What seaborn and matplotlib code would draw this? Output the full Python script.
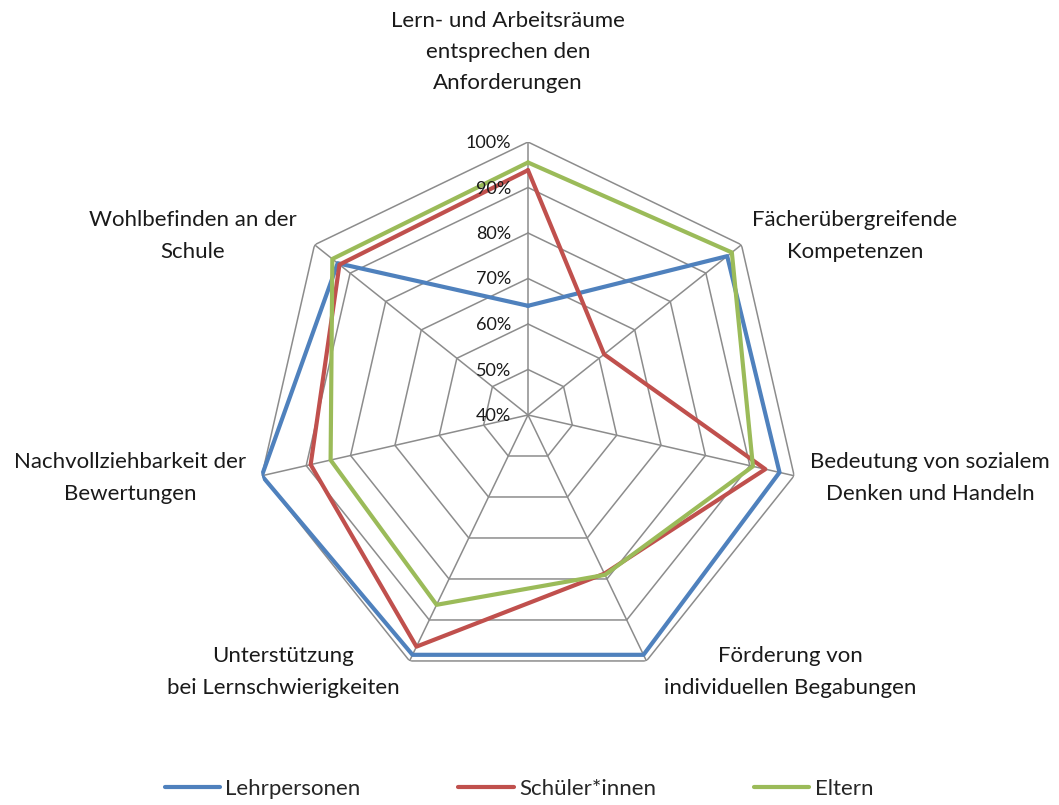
"""Radar chart: Zufriedenheit nach Personengruppe."""

import matplotlib

matplotlib.use('Agg')
import matplotlib.pyplot as plt
import matplotlib.transforms as mtransforms
import numpy as np
import pandas as pd
import seaborn as sns

categories = [
    'Lern- und Arbeitsräume\nentsprechen den\nAnforderungen',
    'Fächerübergreifende\nKompetenzen',
    'Bedeutung von sozialem\nDenken und Handeln',
    'Förderung von\nindividuellen Begabungen',
    'Unterstützung\nbei Lernschwierigkeiten',
    'Nachvollziehbarkeit der\nBewertungen',
    'Wohlbefinden an der\nSchule',
]
lehrpersonen = [64, 96, 96.7, 98.5, 98.5, 100, 93.5]
schueler = [93.8, 61.4, 93.5, 78.7, 96.5, 89, 93]
eltern = [95.5, 97.3, 90.7, 79, 86.3, 84.5, 95]
series_names = ['Lehrpersonen', 'Schüler*innen', 'Eltern']
tick_values = [40, 50, 60, 70, 80, 90, 100]

colors = ['#4F81BD', '#C0504D', '#9BBB59']
grid_color = '#8C8C8C'

# long table, every series closed back to its first point
n = len(categories)
angles = np.linspace(0, 2 * np.pi, n, endpoint=False)
angles_closed = np.append(angles, 2 * np.pi)
rows = []
for name, vals in zip(series_names, [lehrpersonen, schueler, eltern]):
    for a, v in zip(angles_closed, vals + vals[:1]):
        rows.append({'angle': a, 'wert': v, 'gruppe': name})
df = pd.DataFrame(rows)

sns.set_theme(style='white')
plt.rcParams['font.family'] = ['Lato', 'DejaVu Sans']

W, H = 1059, 805
fig = plt.figure(figsize=(W / 100, H / 100), dpi=100)
cx, cy, rad = 528, 415, 273
ax = fig.add_axes([(cx - rad) / W, (H - cy - rad) / H, 2 * rad / W, 2 * rad / H], projection='polar')
ax.set_theta_zero_location('N')
ax.set_theta_direction(-1)
ax.set_ylim(40, 100)
ax.grid(False)
ax.set_xticks([])
ax.set_yticks([])
ax.spines['polar'].set_visible(False)
ax.set_facecolor('none')

# Excel-style polygon grid and spokes
for r in tick_values[1:]:
    ax.plot(angles_closed, [r] * (n + 1), color=grid_color, lw=1.1, zorder=1)
for a in angles:
    ax.plot([a, a], [40, 100], color=grid_color, lw=1.1, zorder=1)

sns.lineplot(data=df, x='angle', y='wert', hue='gruppe', palette=colors, sort=False,
             estimator=None, lw=3, ax=ax, zorder=3)
ax.set_xlabel('')
ax.set_ylabel('')

# percent labels left of the top spoke
offset = mtransforms.offset_copy(ax.transData, fig=fig, x=-17, y=-1, units='dots')
for r in tick_values:
    ax.text(0, r, f'{r}%', transform=offset, ha='right', va='center', fontsize=13, color='#1a1a1a')

# category labels
label_pos = [(508, 52), (855, 236), (930, 478), (790, 672), (283, 672), (130, 478), (193, 236)]
for text, (x, y) in zip(categories, label_pos):
    fig.text(x / W, 1 - y / H, text, ha='center', va='center', fontsize=16, color='#1a1a1a',
             linespacing=1.7)

sns.move_legend(ax, 'center', bbox_to_anchor=(0.49, 1 - 789 / H), bbox_transform=fig.transFigure,
                ncol=3, frameon=False, title=None, fontsize=16, handlelength=2.5,
                handletextpad=0.23, columnspacing=4.4)
for line in ax.get_legend().get_lines():
    line.set_linewidth(3)

fig.savefig('out.png', dpi=100)
plt.close(fig)
